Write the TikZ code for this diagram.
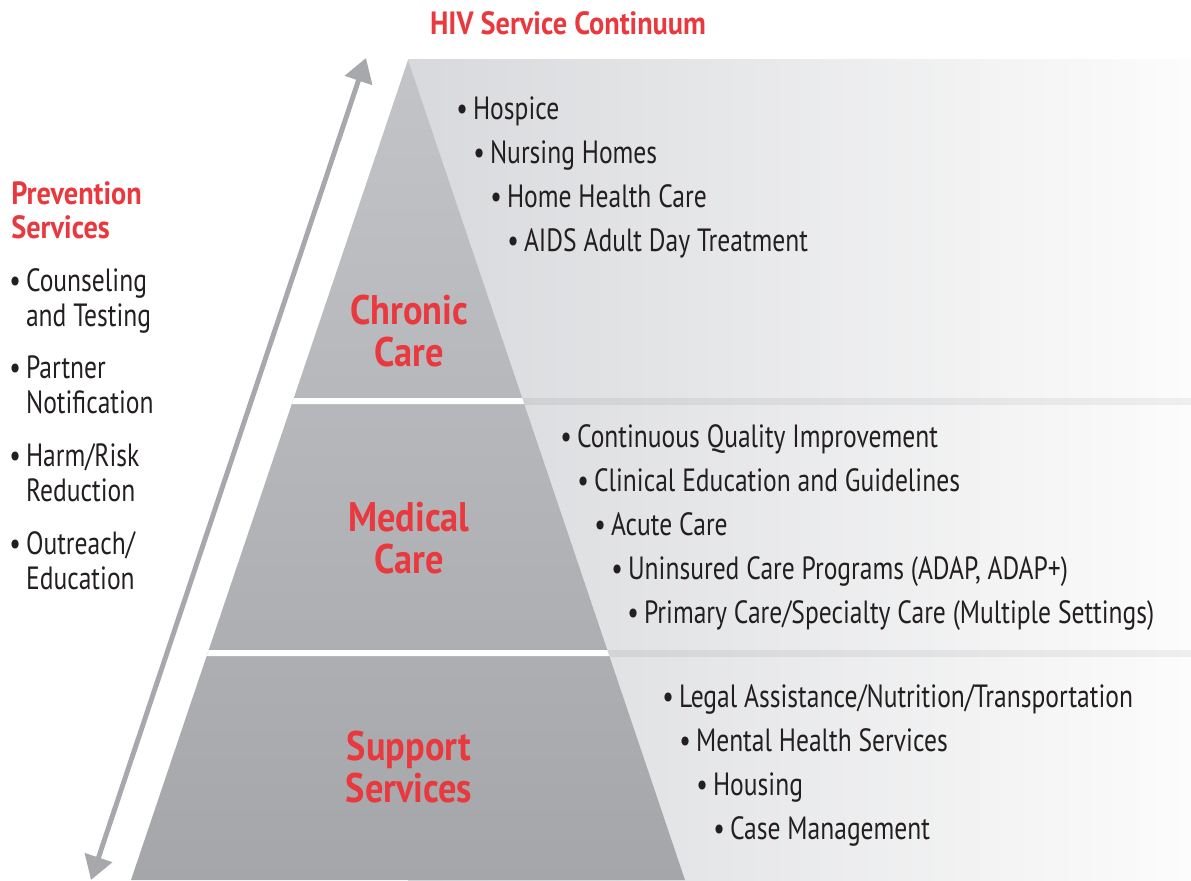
\documentclass[tikz,border=0pt]{standalone}
\usepackage{fontspec}
\setmainfont{PT Sans}[FakeStretch=0.795, BoldFeatures={FakeStretch=0.88}]
\usetikzlibrary{positioning, arrows.meta}

\definecolor{hivred}{RGB}{233,57,62}
\definecolor{ink}{RGB}{35,31,32}
\definecolor{arrowgray}{RGB}{166,168,171}
\definecolor{pyrtop}{RGB}{195,196,199}
\definecolor{pyrbot}{RGB}{165,166,169}
\definecolor{backleft}{RGB}{216,217,220}
\definecolor{backmid}{RGB}{230,231,233}
\definecolor{backright}{RGB}{252,252,252}
\definecolor{rulelft}{RGB}{202,203,206}
\definecolor{rulergt}{RGB}{238,238,239}

\newcommand{\dotitem}{\textbullet\hspace{0.16em}}

\begin{document}
\begin{tikzpicture}[x=0.02cm, y=-0.02cm,
    item/.style={anchor=base west, inner sep=0pt, text=ink, font=\fontsize{18.3}{22}\selectfont},
    sideitem/.style={anchor=base west, inner sep=0pt, text=ink, align=left, font=\fontsize{18.3}{19.85}\selectfont},
    heading/.style={inner sep=0pt, text=hivred, align=left, font=\fontsize{18.3}{19.3}\selectfont\bfseries},
    tier/.style={anchor=base, inner sep=0pt, text=hivred, align=center, font=\fontsize{23.5}{23.5}\selectfont\bfseries}]
    \useasboundingbox (0,0) rectangle (1191,880);

    % Background band and pyramid
    \shade[left color=backleft, middle color=backmid, right color=backright] (408,59) rectangle (1191,880);
    \shade[left color=rulelft, right color=rulergt] (408,398) rectangle (1191,404);
    \shade[left color=rulelft, right color=rulergt] (408,650) rectangle (1191,656);
    \coordinate (apex) at (408,60);
    \coordinate (baseleft) at (131,880);
    \coordinate (baseright) at (685,880);
    \shade[top color=pyrtop, bottom color=pyrbot] (apex) -- (baseright) -- (baseleft) -- cycle;
    \fill[white] (293.8,398) -- (522.2,398) -- (524.2,404) -- (291.8,404) -- cycle;
    \fill[white] (208.7,650) -- (607.3,650) -- (609.3,656) -- (206.7,656) -- cycle;

    % Nodes (base of a two-line node = its last line)
    \node (title) [heading, anchor=base] at (568,34) {HIV Service Continuum};
    \node (chronic) [tier] at (409,366) {Chronic\\Care};
    \node (medical) [tier] at (409,573) {Medical\\Care};
    \node (support) [tier] at (409,802) {Support\\Services};

    \node (hospice) [item] at (456,119) {\dotitem Hospice};
    \node (nursing) [item] at (473,163) {\dotitem Nursing Homes};
    \node (homecare) [item] at (490,207) {\dotitem Home Health Care};
    \node (daytreat) [item] at (507,251) {\dotitem AIDS Adult Day Treatment};

    \node (quality) [item] at (560,447) {\dotitem Continuous Quality Improvement};
    \node (clinical) [item] at (577,491) {\dotitem Clinical Education and Guidelines};
    \node (acute) [item] at (594,535) {\dotitem Acute Care};
    \node (uninsured) [item] at (611,579) {\dotitem Uninsured Care Programs (ADAP, ADAP+)};
    \node (primary) [item] at (627,623) {\dotitem Primary Care/Specialty Care (Multiple Settings)};

    \node (legal) [item] at (662,707) {\dotitem Legal Assistance/Nutrition/Transportation};
    \node (mental) [item] at (679,751) {\dotitem Mental Health Services};
    \node (housing) [item] at (696,795) {\dotitem Housing};
    \node (casemgmt) [item] at (713,839) {\dotitem Case Management};

    \node (prevention) [heading, anchor=base west] at (11,238) {Prevention\\Services};
    \node (counsel) [sideitem] at (9,326) {\dotitem Counseling\\\phantom{\dotitem}and Testing};
    \node (partner) [sideitem] at (9,413) {\dotitem Partner\\\phantom{\dotitem}Notification};
    \node (harm) [sideitem] at (9,501) {\dotitem Harm/Risk\\\phantom{\dotitem}Reduction};
    \node (outreach) [sideitem] at (9,589) {\dotitem Outreach/\\\phantom{\dotitem}Education};

    % Arrows
    \coordinate (arrowtop) at (366,58);
    \coordinate (arrowbottom) at (91,880);
    \draw[arrowgray, line width=2.8pt, {Triangle[length=13.5pt, width=16pt]}-{Triangle[length=13.5pt, width=16pt]}] (arrowbottom) -- (arrowtop);
\end{tikzpicture}
\end{document}
